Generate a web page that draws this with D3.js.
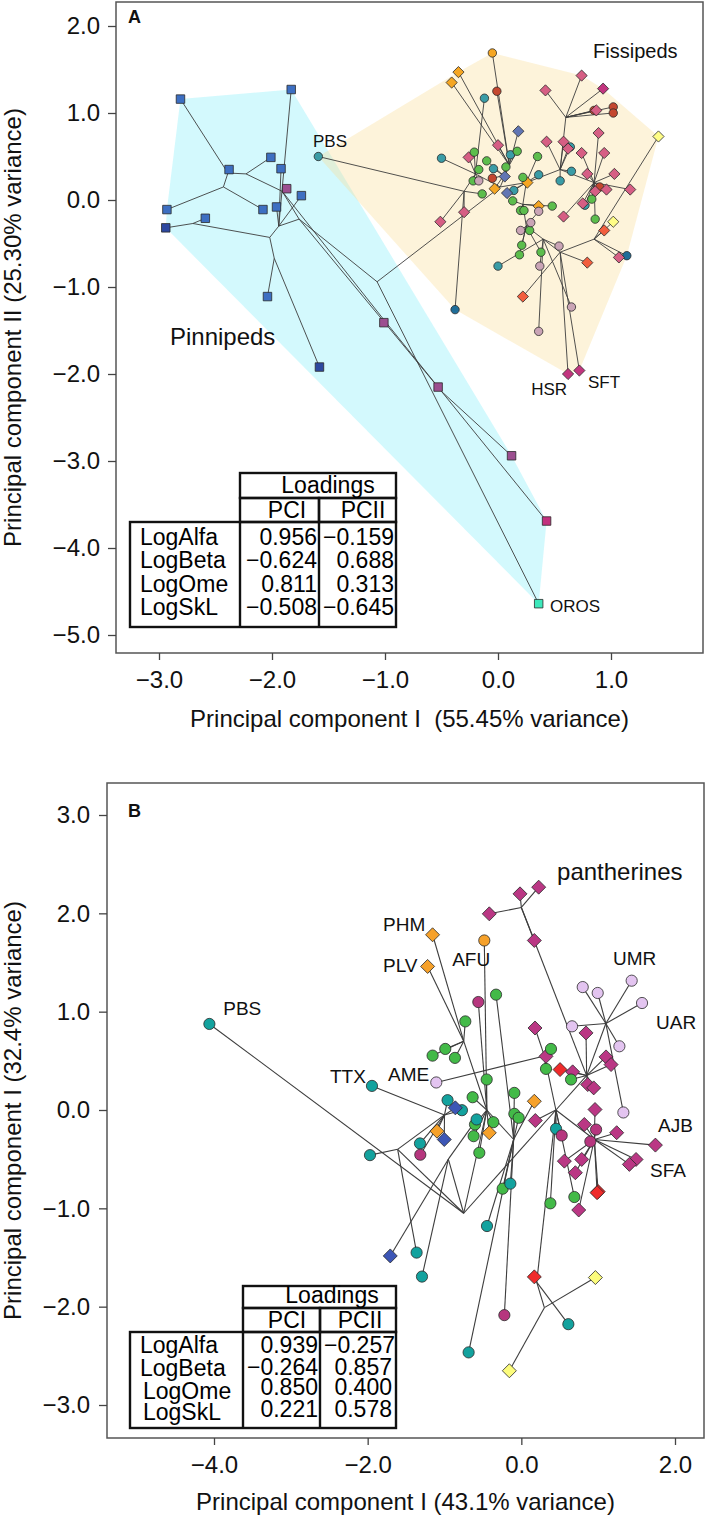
<!DOCTYPE html>
<html><head><meta charset="utf-8">
<script src="https://cdn.jsdelivr.net/npm/d3@7"></script>
<style>body{margin:0;background:#fff}svg{display:block}</style>
</head><body><svg id="c" width="709" height="1517"></svg>
<script>
// ---------------- DATA ----------------
const xTicksA = [-3, -2, -1, 0, 1];
const yTicksA = [2, 1, 0, -1, -2, -3, -4, -5];
const xTicksB = [-4, -2, 0, 2];
const yTicksB = [3, 2, 1, 0, -1, -2, -3];

// internal nodes: [id, PC1, PC2, parent]
const nodesA = [
  ["N10",-1.07,-0.94,null],["N9",-1.76,-0.22,"N10"],["N11",-1.91,0.10,"N9"],
  ["N2",-2.23,0.30,"N11"],["N1",-2.39,0.31,"N2"],["N4",-2.43,0.15,"N1"],
  ["N7",-1.94,-0.30,"N9"],["N5",-2.02,-0.43,"N7"],["N6",-2.70,-0.27,"N5"],
  ["N8",-1.98,-0.67,"N5"],["N13",-1.02,-1.36,"N11"],["N14",-0.50,-2.20,"N9"],
  ["FR",0.02,0.15,"N10"],["A1",-0.20,0.30,"FR"],["A2",-0.30,0.10,"A1"],
  ["B1",0.10,0.40,"FR"],["B2",0.05,0.28,"B1"],["C1",0.25,0.20,"FR"],
  ["C2",0.22,-0.05,"C1"],["C3",0.25,-0.30,"C2"],["C4",0.40,-0.45,"C3"],
  ["C5",0.55,-0.60,"C4"],["C6",0.85,-0.45,"C5"],["D1",0.55,0.35,"C1"],
  ["D2",0.60,0.95,"D1"],["D3",0.85,0.20,"D1"]
];
// tips: [name, PC1, PC2, group, parent, clade]
const tipsA = [
  ["",-2.81,1.16,"sqBlue","N1","P"],["",-1.83,1.27,"sqBlue","N7","P"],
  ["",-2.38,0.35,"sqBlue","N1","P"],["",-2.01,0.49,"sqBlue","N2","P"],
  ["",-1.92,0.36,"sqBlue","N7","P"],["",-1.87,0.13,"sqPurple","N11","P"],
  ["",-1.74,0.05,"sqBlue","N7","P"],["",-2.93,-0.11,"sqBlue","N4","P"],
  ["",-2.08,-0.11,"sqBlue","N4","P"],["",-1.96,-0.08,"sqBlue","N7","P"],
  ["",-2.59,-0.21,"sqBlue","N6","P"],["",-2.94,-0.32,"sqNavy","N6","P"],
  ["",-2.04,-1.11,"sqBlue","N8","P"],["",-1.58,-1.92,"sqNavy","N8","P"],
  ["",-1.01,-1.41,"sqPurple","N13","P"],["",-0.53,-2.15,"sqPurple","N13","P"],
  ["",0.12,-2.94,"sqPurple","N14","P"],["",0.43,-3.69,"sqMagenta","N14","P"],
  ["OROS",0.36,-4.64,"sqAqua","N10","P"],
  ["PBS",-1.59,0.50,"cTeal","A2","F"],
  ["",-0.05,1.69,"cOrange","B1","F"],["",-0.35,1.47,"dOrange","B1","F"],
  ["",-0.41,1.35,"dOrange","B1","F"],["",-0.03,0.13,"dOrange","B2","F"],
  ["",0.26,0.20,"dOrange","C1","F"],["",0.36,-0.07,"dOrange","C2","F"],
  ["",-0.01,1.25,"cRed","B1","F"],["",0.85,1.03,"cRed","D2","F"],
  ["",1.02,1.07,"cRed","D2","F"],["",1.02,1.00,"cRed","D2","F"],
  ["",-0.05,0.25,"cRed","B2","F"],["",0.90,0.15,"cRed","D3","F"],
  ["",-0.12,1.17,"cTeal","A1","F"],["",-0.50,0.48,"cTeal","A1","F"],
  ["",0.11,0.52,"cTeal","B1","F"],["",-0.04,0.36,"cTeal","B2","F"],
  ["",0.36,0.29,"cTeal","C1","F"],["",0.55,0.22,"cTeal","D1","F"],
  ["",0.65,0.33,"cTeal","D1","F"],["",0.64,0.61,"cTeal","D1","F"],
  ["",0.14,0.11,"cTeal","C1","F"],["",0.77,-0.06,"cTeal","D3","F"],
  ["",0.00,-0.76,"cTeal","C4","F"],["",-0.38,-1.26,"cTealDark","A2","F"],
  ["",1.14,-0.64,"cTealDark","C6","F"],
  ["",0.18,0.79,"dSlate","B1","F"],["",0.06,0.27,"dSlate","B2","F"],
  ["",0.08,0.08,"dSlate","C1","F"],
  ["",0.42,1.26,"dPink","D2","F"],["",0.74,1.43,"dPink","D2","F"],
  ["",0.93,1.28,"dMag","D2","F"],["",0.87,1.03,"dPink","D2","F"],
  ["",0.89,0.77,"dPink","D3","F"],["",0.43,0.67,"dPink","D1","F"],
  ["",0.58,0.67,"dPink","D1","F"],["",0.62,0.59,"dPink","D1","F"],
  ["",0.74,0.54,"dPink","D3","F"],["",0.94,0.54,"dPink","D3","F"],
  ["",0.00,0.63,"dPink","B1","F"],["",-0.26,0.49,"dPink","A1","F"],
  ["",0.79,0.30,"dPink","D3","F"],["",1.03,0.30,"dPink","D3","F"],
  ["",1.17,0.12,"dPink","D3","F"],["",0.86,0.10,"dPink","D3","F"],
  ["",0.96,0.12,"dPink","D3","F"],["",0.75,-0.04,"dPink","D3","F"],
  ["",0.58,-0.19,"dPink","D3","F"],["",-0.30,-0.14,"dPink","A2","F"],
  ["",-0.51,-0.25,"dPink","A2","F"],["",1.07,-0.66,"dPink","C6","F"],
  ["",-0.21,0.55,"cGreen","A1","F"],["",-0.10,0.45,"cGreen","B2","F"],
  ["",-0.17,0.35,"cGreen","A1","F"],["",-0.22,0.22,"cGreen","A1","F"],
  ["",0.07,0.38,"cGreen","B1","F"],["",0.17,0.56,"cGreen","B1","F"],
  ["",0.35,0.50,"cGreen","C1","F"],["",0.22,0.26,"cGreen","C1","F"],
  ["",-0.14,0.07,"cGreen","A2","F"],["",0.13,-0.01,"cGreen","C2","F"],
  ["",0.20,-0.12,"cGreen","C2","F"],["",0.23,-0.12,"cGreen","C2","F"],
  ["",0.28,-0.35,"cGreen","C3","F"],["",0.21,-0.52,"cGreen","C3","F"],
  ["",0.19,-0.63,"cGreen","C3","F"],["",0.38,-0.60,"cGreen","C3","F"],
  ["",0.48,-0.07,"cGreen","C2","F"],["",0.83,0.01,"cGreen","D3","F"],
  ["",0.86,-0.22,"cGreen","D3","F"],
  ["",-0.17,0.22,"cLPink","A1","F"],["",0.36,-0.13,"cLPink","C3","F"],
  ["",0.29,-0.26,"cLPink","C3","F"],["",0.20,-0.35,"cLPink","C3","F"],
  ["",0.54,-0.53,"cLPink","C4","F"],["",0.37,-0.76,"cLPink","C4","F"],
  ["",0.65,-1.23,"cLPink","C4","F"],["",0.36,-1.51,"cLPink","C4","F"],
  ["",1.42,0.73,"dYellow","C6","F"],["",1.02,-0.25,"dYellow","C6","F"],
  ["",0.94,-0.35,"dOrRed","C6","F"],["",0.79,-0.72,"dOrRed","C5","F"],
  ["",0.22,-1.11,"dOrRed","C5","F"],
  ["HSR",0.62,-2.00,"dMag","C5","F"],["SFT",0.72,-1.96,"dMag","C5","F"]
];

const nodesB = [
  ["RB",-0.75,-1.05,null],["K1",-1.61,-0.40,"RB"],["K2",-1.00,-0.05,"K1"],
  ["K3",-0.95,-0.50,"RB"],["M1",-0.45,0.00,"RB"],["M2",-0.75,0.70,"M1"],
  ["M3",-0.10,-0.30,"M1"],["Fe",0.45,0.00,"RB"],["M4",0.20,-1.75,"Fe"],
  ["Y1",0.30,-2.01,"M4"],["Fe2",0.85,0.35,"Fe"],["P1",0.00,2.06,"Fe2"],
  ["L1",1.10,0.88,"Fe2"],["Fe3",0.95,-0.30,"Fe"],["Fe4",0.30,0.55,"Fe"]
];
const tipsB = [
  ["PBS",-4.06,0.875,"cTeal","RB"],["TTX",-1.944,0.245,"cTeal","K2"],
  ["AME",-1.107,0.28,"cLav","Fe4"],["PHM",-1.155,1.782,"dOrange","M2"],
  ["PLV",-1.220,1.460,"dOrange","M2"],["AFU",-0.482,1.724,"cOrange","M1"],
  ["",0.226,2.266,"dMag","P1"],["",-0.017,2.198,"dMag","P1"],
  ["",-0.417,1.995,"dMag","P1"],["",0.169,1.724,"dMag","P1"],
  ["",-0.560,1.098,"cMag","M1"],["",-0.329,1.173,"cGreen","M3"],
  ["",0.799,1.250,"cLav","L1"],["",0.994,1.190,"cLav","L1"],
  ["UMR",1.436,1.315,"cLav","L1"],["UAR",1.571,1.088,"cLav","L1"],
  ["",0.660,0.851,"cLav","L1"],["",1.276,0.648,"cLav","L1"],
  ["",1.328,-0.025,"cLav","L1"],
  ["",0.178,0.834,"dMag","Fe4"],["",0.842,0.784,"dMag","Fe2"],
  ["",1.102,0.540,"dMag","Fe2"],["",1.168,0.462,"dMag","Fe2"],
  ["",0.321,0.546,"dMag","Fe4"],["",0.668,0.388,"dMag","Fe2"],
  ["",0.864,0.259,"dMag","Fe2"],["",0.942,0.225,"dMag","Fe2"],
  ["",0.959,0.005,"dMag","Fe3"],["",0.182,-0.107,"dMag","Fe"],
  ["",0.820,-0.147,"dMag","Fe3"],["",1.241,-0.231,"dMag","Fe3"],
  ["AJB",1.745,-0.357,"dMag","Fe3"],["",1.493,-0.503,"dMag","Fe3"],
  ["SFA",1.406,-0.553,"dMag","Fe3"],["",0.560,-0.520,"dMag","Fe3"],
  ["",0.786,-0.503,"dMag","Fe3"],["",0.703,-0.638,"dMag","Fe3"],
  ["",0.747,-1.017,"dMag","Fe3"],
  ["",0.504,0.411,"dRed","Fe2"],["",1.000,-0.830,"dRed","Fe3"],["",0.986,-0.841,"dRed","Fe3"],
  ["",0.169,-1.697,"dRed","M4"],
  ["",-0.729,0.901,"cGreen","M2"],["",-1.155,0.553,"cGreen","M2"],
  ["",-0.990,0.621,"cGreen","M2"],["",-0.864,0.530,"cGreen","M2"],
  ["",0.386,0.621,"cGreen","Fe4"],["",0.321,0.418,"cGreen","Fe4"],
  ["",0.647,0.310,"cGreen","Fe2"],["",-0.451,0.310,"cGreen","M1"],
  ["",-0.634,0.130,"cGreen","M1"],["",-0.091,0.174,"cGreen","M3"],
  ["",-0.091,-0.039,"cGreen","M3"],["",-0.035,-0.079,"cGreen","M3"],
  ["",-0.365,-0.124,"cGreen","M1"],["",-0.621,-0.266,"cGreen","M1"],
  ["",-0.547,-0.435,"cGreen","M1"],["",-0.603,-0.147,"cGreen","M1"],
  ["",0.690,-0.885,"cGreen","Fe"],["",0.378,-0.949,"cGreen","Fe"],
  ["",-0.243,-0.800,"cGreen","M3"],
  ["",-0.960,0.100,"cTeal","K2"],["",-0.773,-0.002,"cTeal","K2"],
  ["",-0.582,-0.096,"cTeal","K3"],["",0.452,-0.191,"cTeal","Fe"],
  ["",-1.319,-0.340,"cTeal","K2"],["",-1.970,-0.459,"cTeal","K1"],
  ["",-0.143,-0.749,"cTeal","M3"],["",-0.447,-1.180,"cTeal","M3"],
  ["",-1.363,-1.450,"cTeal","K1"],["",-1.293,-1.694,"cTeal","K3"],
  ["",0.612,-2.178,"cTeal","M4"],["",-0.686,-2.465,"cTeal","M3"],
  ["",-0.859,0.022,"dBlue","K2"],["",-1.003,-0.300,"dBlue","K2"],
  ["",-1.706,-1.484,"dBlue","K3"],
  ["",0.169,0.089,"dOrange","M3"],["",-1.098,-0.215,"dOrange","K2"],
  ["",-0.417,-0.232,"dOrange","M1"],
  ["",0.525,-0.259,"cMag","Fe"],["",0.973,-0.199,"cMag","Fe3"],
  ["",0.898,-0.321,"cMag","Fe3"],["",-1.315,-0.455,"cMag","K2"],
  ["",-0.221,-2.086,"cMag","M3"],
  ["",0.964,-1.704,"dYellow","Y1"],["",-0.156,-2.652,"dYellow","Y1"]
];

// annotations: [text, PC1, PC2, anchor, size]
const annotationsA = [
  ["PBS",-1.637,0.609,"start",17],["HSR",0.611,-2.241,"end",17],
  ["SFT",0.796,-2.161,"start",17],["OROS",0.460,-4.736,"start",17],
  ["Fissipeds",0.841,1.632,"start",20],["Pinnipeds",-2.903,-1.667,"start",24]
];
const annotationsB = [
  ["PBS",-3.88,0.966,"start",19],["TTX",-2.49,0.275,"start",19],
  ["AME",-1.735,0.295,"start",19],["PHM",-1.80,1.820,"start",19],
  ["PLV",-1.80,1.403,"start",19],["AFU",-0.90,1.464,"start",19],
  ["UMR",1.194,1.475,"start",19],["UAR",1.753,0.824,"start",19],
  ["AJB",1.779,-0.224,"start",19],["SFA",1.675,-0.681,"start",19],
  ["pantherines",0.465,2.339,"start",24]
];

const loadingVars = ["LogAlfa","LogBeta","LogOme","LogSkL"];
const loadingsA = [[0.956,-0.159],[-0.624,0.688],[0.811,0.313],[-0.508,-0.645]];
const loadingsB = [[0.939,-0.257],[-0.264,0.857],[0.850,0.400],[0.221,0.578]];

// ---------------- STYLE ----------------
const FONT = '"Liberation Sans", Arial, Helvetica, sans-serif';
const styleA = {
  sqBlue:["sq","#3d6fc2"], sqNavy:["sq","#2d48a0"], sqPurple:["sq","#9c4f90"],
  sqMagenta:["sq","#c2317e"], sqAqua:["sq","#3ce8bb"],
  cTeal:["c","#3a9ca6"], cTealDark:["c","#1f6d98"], cOrange:["c","#f5a623"],
  dOrange:["d","#f5a623"], cRed:["c","#c4472f"], dSlate:["d","#6175b3"],
  dPink:["d","#d65e84"], dMag:["d","#c2357f"], cGreen:["c","#5cbd4c"],
  cLPink:["c","#caa4b6"], dYellow:["d","#fffd86"], dOrRed:["d","#f25e3e"]
};
const styleB = {
  cTeal:["c","#13a29e"], cLav:["c","#e3c4f0"], dOrange:["d","#f6a12a"],
  cOrange:["c","#f6a12a"], dMag:["d","#ba3784"], cMag:["c","#b6367e"],
  cGreen:["c","#43ba48"], dBlue:["d","#3c56b6"], dRed:["d","#ef2b2b"],
  dYellow:["d","#fcfc7c"]
};

const svg = d3.select("#c");
const minus = s => s.replace(/-/g, "\u2212");
const fmt1 = d => minus(d3.format(".1f")(d));
const fmt3 = d => minus(d3.format(".3f")(d));

function markPath(shape, cx, cy, sz){
  if (shape === "sq") { const h = sz.sq/2; return `M${cx-h},${cy-h}h${sz.sq}v${sz.sq}h${-sz.sq}Z`; }
  if (shape === "d") { const r = sz.d; return `M${cx},${cy-r}L${cx+r},${cy}L${cx},${cy+r}L${cx-r},${cy}Z`; }
  const r = sz.c;
  return `M${cx-r},${cy}a${r},${r} 0 1,0 ${2*r},0a${r},${r} 0 1,0 ${-2*r},0Z`;
}

function drawPanel(cfg){
  const {x, y, frame, nodes, tips, style, sz} = cfg;
  const g = svg.append("g");
  const pos = new Map();
  nodes.forEach(n => pos.set(n[0], [x(n[1]), y(n[2])]));
  (cfg.hulls || []).forEach(h => {
    const pts = tips.filter(t => t[5] === h.clade).map(t => [x(t[1]), y(t[2])]);
    const hull = d3.polygonHull(pts);
    g.append("path").attr("d", "M" + hull.join("L") + "Z")
      .attr("fill", h.fill).attr("fill-opacity", h.op).attr("stroke", "none");
  });
  const edges = [];
  nodes.forEach(n => { if (n[3]) edges.push([pos.get(n[3]), pos.get(n[0])]); });
  tips.forEach(t => edges.push([pos.get(t[4]), [x(t[1]), y(t[2])]]));
  g.append("g").selectAll("line").data(edges).join("line")
    .attr("x1", d => d[0][0]).attr("y1", d => d[0][1])
    .attr("x2", d => d[1][0]).attr("y2", d => d[1][1])
    .attr("stroke", "#3d3d3d").attr("stroke-width", cfg.lw);
  g.append("g").selectAll("path").data(tips).join("path")
    .attr("d", t => markPath(style[t[3]][0], x(t[1]), y(t[2]), sz))
    .attr("fill", t => style[t[3]][1]).attr("stroke", "#2a2a2a").attr("stroke-width", 0.8);
  g.append("g").selectAll("text").data(cfg.ann).join("text")
    .attr("x", a => x(a[1])).attr("y", a => y(a[2])).attr("text-anchor", a => a[3])
    .attr("font-size", a => a[4]).attr("font-family", FONT).attr("fill", "#111").text(a => a[0]);
  g.append("rect").attr("x", frame.l).attr("y", frame.t)
    .attr("width", frame.r - frame.l).attr("height", frame.b - frame.t)
    .attr("fill", "none").attr("stroke", "#555").attr("stroke-width", 1.5);
  const ax = g.append("g").attr("transform", `translate(0,${frame.b})`)
    .call(d3.axisBottom(x).tickValues(cfg.xt).tickSize(7).tickPadding(11).tickFormat(fmt1));
  const ay = g.append("g").attr("transform", `translate(${frame.l},0)`)
    .call(d3.axisLeft(y).tickValues(cfg.yt).tickSize(8).tickPadding(cfg.ypad).tickFormat(fmt1));
  [ax, ay].forEach(a => {
    a.select(".domain").remove();
    a.attr("font-size", 24).attr("font-family", FONT);
    a.selectAll("line").attr("stroke", "#444").attr("stroke-width", 1.3);
    a.selectAll("text").attr("fill", "#111");
  });
  g.append("text").attr("x", (frame.l + frame.r)/2).attr("y", cfg.xTitleY)
    .attr("text-anchor", "middle").attr("font-size", 24).attr("font-family", FONT)
    .style("white-space", "pre").attr("fill", "#111").text(cfg.xTitle);
  g.append("text").attr("transform", `translate(21,${(frame.t + frame.b)/2}) rotate(-90)`)
    .attr("text-anchor", "middle").attr("font-size", 24).attr("font-family", FONT)
    .attr("fill", "#111").text(cfg.yTitle);
  g.append("text").attr("x", 128).attr("y", cfg.letterY).attr("font-size", 18)
    .attr("font-weight", "bold").attr("font-family", FONT).attr("fill", "#111").text(cfg.letter);
}

function drawTable(t, vals){
  const g = svg.append("g").attr("font-family", FONT).attr("font-size", 23).attr("fill", "#000");
  const box = (x0, y0, w, h) => g.append("rect").attr("x", x0).attr("y", y0).attr("width", w).attr("height", h)
    .attr("fill", "none").attr("stroke", "#111").attr("stroke-width", 2.4);
  const h1b = t.top + t.h1, h2b = h1b + t.h2;
  box(t.c1, t.top, t.r - t.c1, t.h1);
  box(t.c1, h1b, t.c2 - t.c1, t.h2);
  box(t.c2, h1b, t.r - t.c2, t.h2);
  box(t.l, h2b, t.r - t.l, t.bot - h2b);
  [t.c1, t.c2].forEach(cx => g.append("line").attr("x1", cx).attr("x2", cx).attr("y1", h2b).attr("y2", t.bot)
    .attr("stroke", "#111").attr("stroke-width", 2.4));
  g.append("text").attr("x", t.loadX).attr("y", h1b - 5).attr("text-anchor", "middle").text("Loadings");
  g.append("text").attr("x", t.pc1X).attr("y", h2b - 4).attr("text-anchor", "middle").text("PCI");
  g.append("text").attr("x", t.pc2X).attr("y", h2b - 4).attr("text-anchor", "middle").text("PCII");
  loadingVars.forEach((v, i) => {
    g.append("text").attr("x", t.nameX[i]).attr("y", t.nameY[i]).text(v);
    g.append("text").attr("x", t.c2 - 2).attr("y", t.numY[i]).attr("text-anchor", "end").text(fmt3(vals[i][0]));
    g.append("text").attr("x", t.numR2[i]).attr("y", t.numY[i]).attr("text-anchor", "end").text(fmt3(vals[i][1]));
  });
}

// ---------------- PANEL A ----------------
const xA = d3.scaleLinear().domain([-3, 1]).range([159, 611]);
const yA = d3.scaleLinear().domain([2, -5]).range([26, 635]);
drawPanel({
  x: xA, y: yA, frame: {l:116, r:703, t:2, b:653}, nodes: nodesA, tips: tipsA,
  style: styleA, sz: {sq:8.5, c:4.2, d:5.6}, lw: 0.9,
  hulls: [{clade:"P", fill:"#9ef2fb", op:0.45}, {clade:"F", fill:"#fadc96", op:0.35}],
  ann: annotationsA, xt: xTicksA, yt: yTicksA, ypad: 8,
  xTitle: "Principal component I  (55.45% variance)", xTitleY: 727,
  yTitle: "Principal component II (25.30% variance)", letter: "A", letterY: 23
});
drawTable({l:130, c1:240, c2:319, r:396, top:473, h1:25, h2:24, bot:627,
  loadX:328, pc1X:287, pc2X:363, nameX:[140,140,140,140],
  nameY:[545,568,592,615], numY:[545,568,592,615], numR2:[394,394,394,394]}, loadingsA);

// ---------------- PANEL B ----------------
const xB = d3.scaleLinear().domain([-4, 2]).range([214, 675]);
const yB = d3.scaleLinear().domain([3, -3]).range([815, 1405]);
drawPanel({
  x: xB, y: yB, frame: {l:107, r:704, t:783, b:1438}, nodes: nodesB, tips: tipsB,
  style: styleB, sz: {sq:10, c:5.6, d:7}, lw: 1.1,
  ann: annotationsB, xt: xTicksB, yt: yTicksB, ypad: 9,
  xTitle: "Principal component I (43.1% variance)", xTitleY: 1510,
  yTitle: "Principal component I (32.4% variance)", letter: "B", letterY: 817
});
drawTable({l:130, c1:243, c2:320, r:396, top:1286, h1:22, h2:24, bot:1428,
  loadX:332, pc1X:287, pc2X:360, nameX:[140,140,143,143],
  nameY:[1353,1376,1399,1420], numY:[1353,1375,1395,1417], numR2:[395,392,392,392]}, loadingsB);
</script></body></html>
